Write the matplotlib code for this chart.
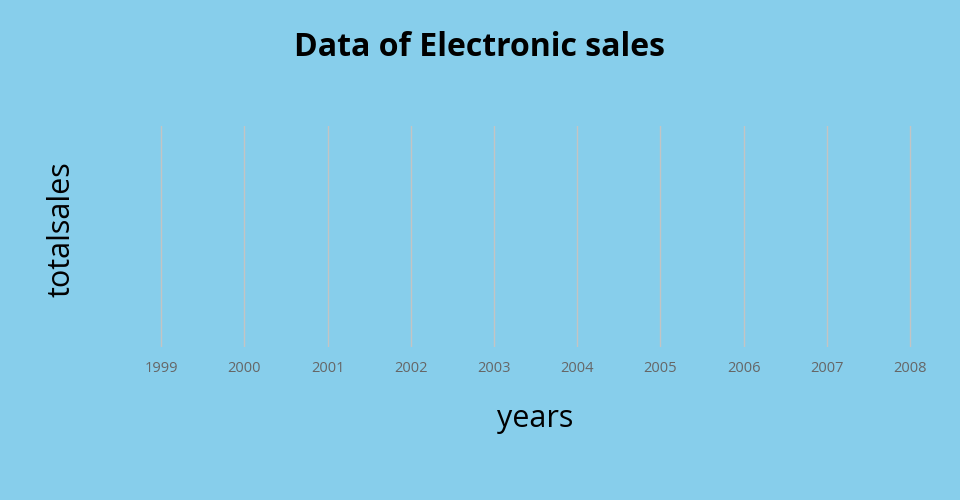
import matplotlib
matplotlib.use("Agg")
import matplotlib.pyplot as plt

# Chart data: the years on the x axis. The reference shows no visible marks.
years = [1999, 2000, 2001, 2002, 2003, 2004, 2005, 2006, 2007, 2008]
year_labels = [str(y) for y in years]

title = "Data of Electronic sales"
x_title = "years"
y_title = "totalsales"

bg = "#87ceeb"
W, H = 960, 500

plt.rcParams["font.family"] = ["Open Sans", "DejaVu Sans"]

fig = plt.figure(figsize=(W / 100, H / 100), dpi=100, facecolor=bg)

# plot area in pixels
left, right, top, bottom = 119.5, 951.5, 126, 347
ax = fig.add_axes([left / W, 1 - bottom / H, (right - left) / W, (bottom - top) / H])
ax.set_facecolor(bg)
ax.set_xlim(years[0] - 0.5, years[-1] + 0.5)
ax.set_ylim(0, 1)
ax.set_xticks(years)
ax.set_xticklabels(year_labels, color="#666666", fontsize=10.5)
ax.set_yticks([])
ax.tick_params(axis="x", length=0, pad=10)
ax.grid(axis="x", color="#c4c4c4", linewidth=1)
for s in ax.spines.values():
    s.set_visible(False)

fig.text(480 / W, 1 - 47 / H, title, ha="center", va="center",
         fontsize=23, fontweight="bold", color="black")
fig.text(535 / W, 1 - 419 / H, x_title, ha="center", va="center",
         fontsize=22, color="black")
fig.text(62 / W, 1 - 229 / H, y_title, ha="center", va="center",
         rotation=90, fontsize=22, color="black")

fig.savefig("out.png", dpi=100, facecolor=bg)
